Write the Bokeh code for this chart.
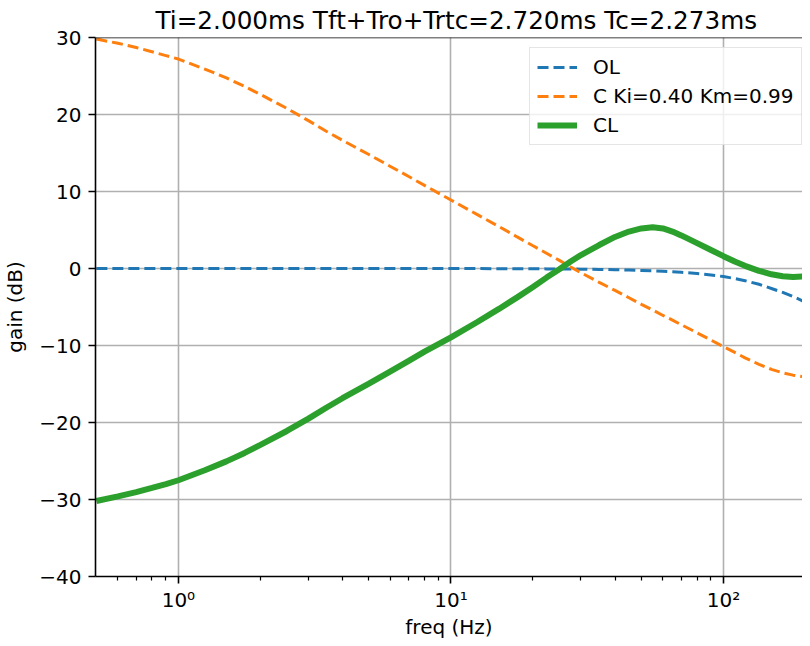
from bokeh.plotting import figure
from bokeh.models import FixedTicker, Legend, LegendItem, Span
from bokeh.embed import file_html
from bokeh.resources import INLINE

# ---- data ----
freq = [0.5, 0.6, 0.7, 0.8, 0.9, 1.0, 1.25, 1.5, 1.75, 2.0, 2.5, 3.0, 3.5, 4.0,
        5.0, 6.0, 7.0, 8.0, 10.0, 12.5, 15.0, 17.5, 20.0, 22.5, 25.0, 27.5,
        30.0, 35.0, 40.0, 45.0, 50.0, 55.0, 60.0, 65.0, 70.0, 80.0, 90.0,
        100.0, 110.0, 120.0, 135.0, 150.0, 165.0, 180.0, 195.0, 210.0]

ol_gain = [0.0, 0.0, 0.0, 0.0, 0.0, 0.0, 0.0, 0.0, 0.0, 0.0, 0.0, 0.0, 0.0, 0.0,
           0.0, 0.0, 0.0, 0.0, -0.01, -0.01, -0.02, -0.03, -0.04, -0.05, -0.06, -0.07,
           -0.09, -0.12, -0.16, -0.2, -0.25, -0.3, -0.36, -0.42, -0.49, -0.64, -0.83,
           -1.05, -1.3, -1.58, -2.05, -2.6, -3.1, -3.65, -4.2, -4.8]

c_gain = [29.8, 29.25, 28.7, 28.15, 27.65, 27.2, 25.9, 24.75, 23.65, 22.6, 20.8, 19.2, 17.8, 16.65,
          14.8, 13.25, 11.95, 10.8, 8.9, 7.0, 5.45, 4.1, 2.95, 1.95, 1.05, 0.2,
          -0.55, -1.8, -2.85, -3.8, -4.65, -5.4, -6.1, -6.7, -7.3, -8.35, -9.3,
          -10.15, -10.9, -11.6, -12.45, -13.1, -13.55, -13.85, -14.05, -14.2]

cl_gain = [-30.2, -29.6, -29.05, -28.5, -28.0, -27.5, -26.2, -25.05, -23.95, -22.9, -21.1, -19.5, -18.05, -16.85,
           -14.95, -13.35, -12.0, -10.8, -8.95, -6.95, -5.25, -3.75, -2.4, -1.15, -0.1, 0.9,
           1.75, 3.05, 4.1, 4.8, 5.2, 5.35, 5.2, 4.8, 4.3, 3.3, 2.4,
           1.6, 0.9, 0.35, -0.3, -0.75, -1.0, -1.1, -1.05, -0.9]

labels = ["OL", "C Ki=0.40 Km=0.99", "CL"]
title_text = "Ti=2.000ms Tft+Tro+Trtc=2.720ms Tc=2.273ms"
x_label = "freq (Hz)"
y_label = "gain (dB)"
x_major = [1, 10, 100]
x_major_labels = ["10\u2070", "10\u00b9", "10\u00b2"]
x_minor = [0.6, 0.7, 0.8, 0.9, 2, 3, 4, 5, 6, 7, 8, 9,
           20, 30, 40, 50, 60, 70, 80, 90, 200]
y_major = [-40, -30, -20, -10, 0, 10, 20, 30]

FONT = "DejaVu Sans"

p = figure(frame_width=707, frame_height=539, x_axis_type="log",
           x_range=(0.4964, 195.0), y_range=(-40, 30),
           output_backend="svg", toolbar_location=None,
           min_border_left=87, min_border_right=0,
           min_border_top=30, min_border_bottom=0,
           title=title_text)

p.title.text_font = FONT
p.title.text_font_size = "24.7px"
p.title.text_font_style = "normal"
p.title.text_color = "black"
p.title.align = "left"
p.title.offset = 60
p.title.standoff = 6

p.outline_line_color = None
p.background_fill_color = "white"

# axes
for ax in (p.xaxis[0], p.yaxis[0]):
    ax.axis_line_color = "black"
    ax.axis_line_width = 1.6
    ax.major_tick_line_color = "black"
    ax.major_tick_line_width = 1.6
    ax.major_tick_in = 0
    ax.major_tick_out = 7
    ax.major_label_text_font = FONT
    ax.major_label_text_font_size = "20px"
    ax.major_label_text_color = "black"
    ax.axis_label_text_font = FONT
    ax.axis_label_text_font_size = "20px"
    ax.axis_label_text_font_style = "normal"
    ax.axis_label_text_color = "black"
    ax.major_label_standoff = 7

p.xaxis.ticker = FixedTicker(ticks=x_major, minor_ticks=x_minor)
p.xaxis.major_label_overrides = dict(zip(x_major, x_major_labels))
p.xaxis.minor_tick_line_color = "black"
p.xaxis.minor_tick_line_width = 1.2
p.xaxis.minor_tick_in = 0
p.xaxis.minor_tick_out = 4
p.xaxis.major_label_standoff = 4
p.xaxis.axis_label = x_label
p.xaxis.axis_label_standoff = 0
p.xaxis.axis_label_text_line_height = 1.0
p.xaxis.major_label_text_line_height = 1.0

p.yaxis.ticker = FixedTicker(ticks=y_major)
p.yaxis.major_label_overrides = {v: (str(v).replace("-", "\u2212")) for v in y_major}
p.yaxis.minor_tick_line_color = None
p.yaxis.axis_label = y_label
p.yaxis.axis_label_standoff = 9

p.grid.grid_line_color = "#b0b0b0"
p.grid.grid_line_width = 1.6

# top spine
p.add_layout(Span(location=30, dimension="width", line_color="black", line_width=1.6))

r_ol = p.line(freq, ol_gain, line_color="#1f77b4", line_width=3, line_dash="11 5")
r_c = p.line(freq, c_gain, line_color="#ff7f0e", line_width=3, line_dash="11 5")
r_cl = p.line(freq, cl_gain, line_color="#2ca02c", line_width=6)

legend = Legend(items=[LegendItem(label=labels[0], renderers=[r_ol]),
                       LegendItem(label=labels[1], renderers=[r_c]),
                       LegendItem(label=labels[2], renderers=[r_cl])],
                location=(434, 431))
legend.label_text_font = FONT
legend.label_text_font_size = "20px"
legend.label_text_color = "black"
legend.glyph_width = 40
legend.glyph_height = 20
legend.label_height = 20
legend.label_standoff = 16
legend.spacing = 5
legend.padding = 7
legend.margin = 0
legend.border_line_color = "#cccccc"
legend.border_line_width = 1.5
legend.background_fill_alpha = 0.8
p.add_layout(legend)

open("out.html", "w").write(file_html(p, INLINE))
